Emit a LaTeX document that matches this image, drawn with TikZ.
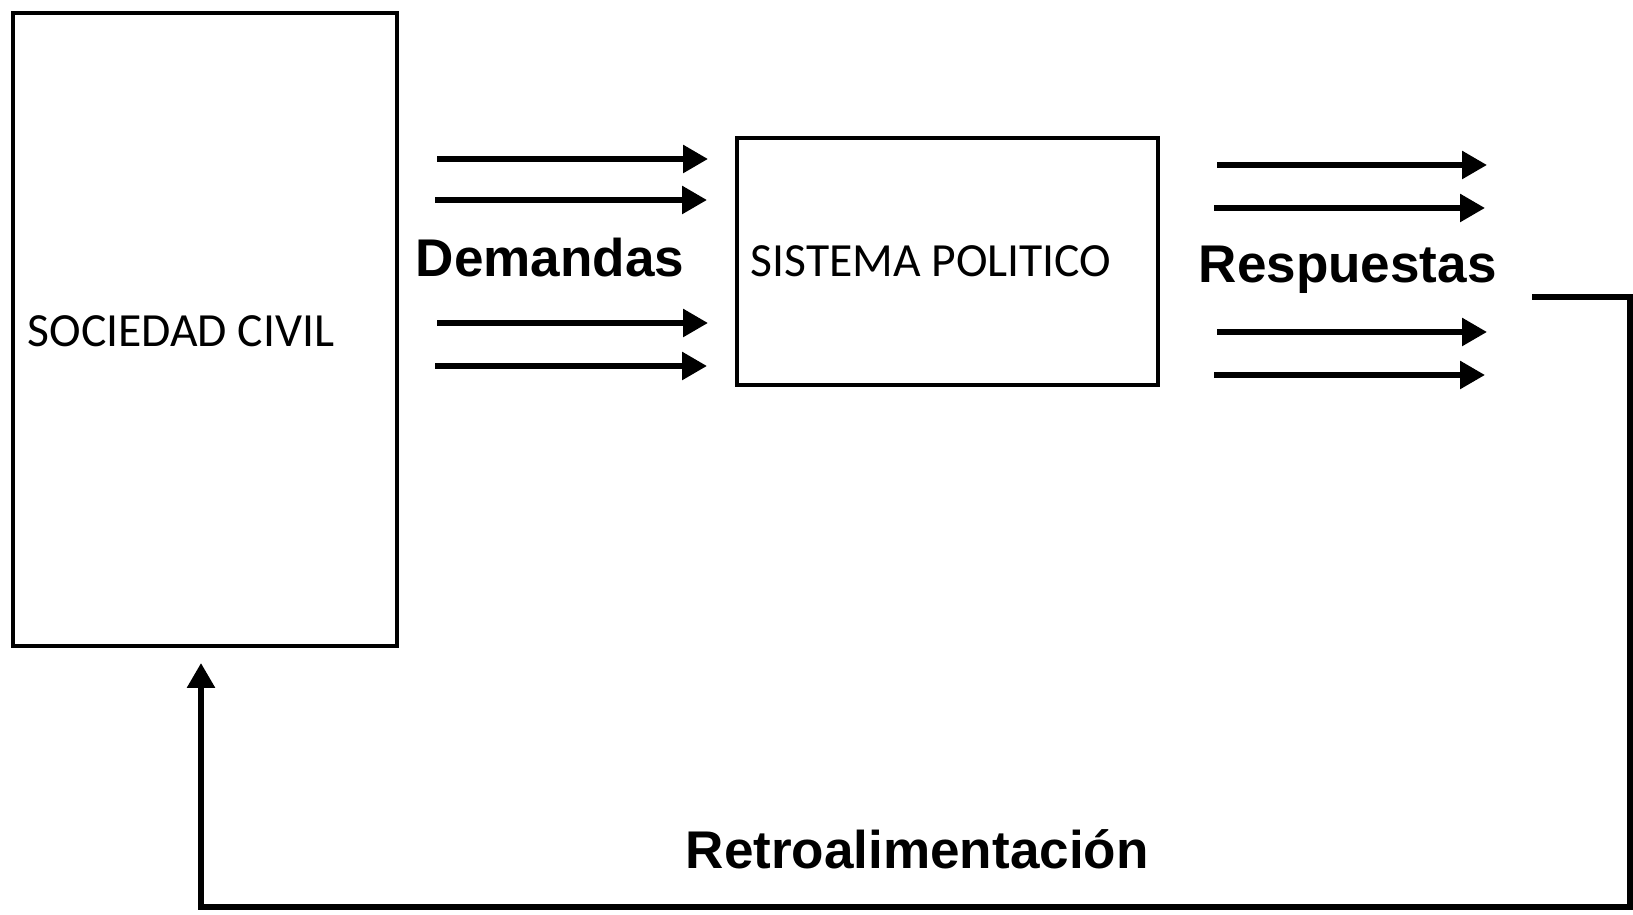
\documentclass[tikz,border=0pt]{standalone}
\usepackage{fontspec}
\setmainfont{Carlito}
\newfontfamily\arialfont{Liberation Sans}
\usetikzlibrary{arrows.meta}

\tikzset{
    caja/.style={draw, line width=1.3pt, inner sep=0pt},
    boxtext/.style={anchor=base west, inner sep=0pt, font=\fontsize{13.55}{16}\selectfont},
    flowtext/.style={anchor=base west, inner sep=0pt, font=\arialfont\bfseries\fontsize{15.1}{18}\selectfont},
    flecha/.style={line width=1.65pt, -{Triangle[length=0.25cm, width=0.27cm]}}
}

\begin{document}
\begin{tikzpicture}

    \useasboundingbox (0,0) rectangle (16.33,9.15);

    % society
    \node[caja, minimum width=3.84cm, minimum height=6.33cm] (sociedad) at (2.05,5.855) {};
    \node[boxtext] (sociedadtxt) at (0.27,5.68) {SOCIEDAD CIVIL};

    % political system
    \node[caja, minimum width=4.21cm, minimum height=2.47cm] (sistema) at (9.475,6.535) {};
    \node[boxtext] (sistematxt) at (7.50,6.38) {SISTEMA POLITICO};

    % demands
    \node[flowtext] (demandas) at (4.15,6.38) {Demandas};
    \foreach \y/\xs/\xe [count=\i] in {7.56/4.37/7.08, 7.15/4.35/7.07, 5.92/4.37/7.08, 5.49/4.35/7.07}{
        \coordinate (dem\i a) at (\xs,\y);
        \coordinate (dem\i b) at (\xe,\y);
        \draw[flecha] (dem\i a) -- (dem\i b);
    }

    % responses
    \node[flowtext] (respuestas) at (11.98,6.32) {Respuestas};
    \foreach \y/\xs/\xe [count=\i] in {7.50/12.17/14.87, 7.07/12.14/14.85, 5.83/12.17/14.87, 5.40/12.14/14.85}{
        \coordinate (res\i a) at (\xs,\y);
        \coordinate (res\i b) at (\xe,\y);
        \draw[flecha] (res\i a) -- (res\i b);
    }

    % feedback
    \node[flowtext] (retro) at (6.85,0.46) {Retroalimentación};
    \coordinate (fbout) at (15.32,6.18);
    \coordinate (fbin) at (2.01,2.52);
    \draw[flecha] (fbout) -- (16.30,6.18) -- (16.30,0.08) -| (fbin);

\end{tikzpicture}
\end{document}
